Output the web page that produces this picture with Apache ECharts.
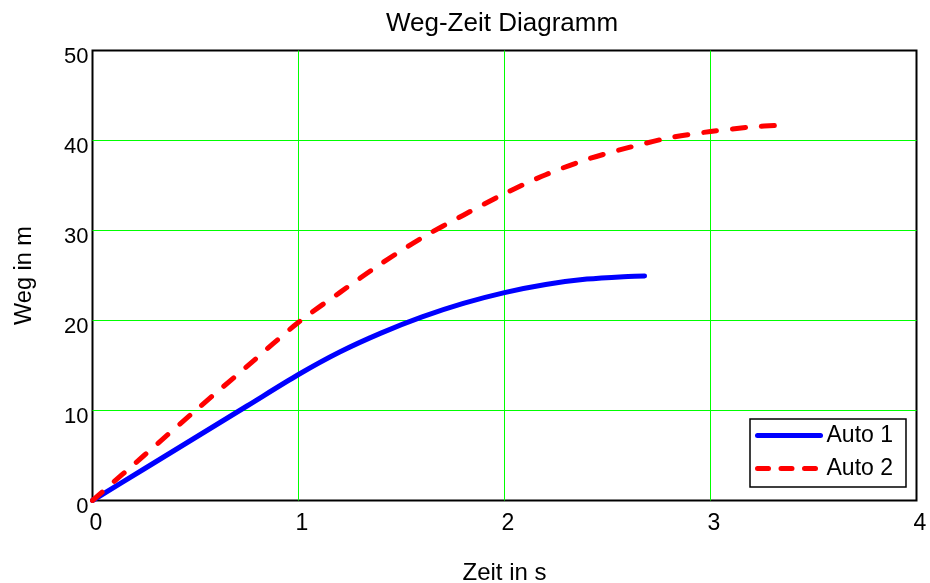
<!DOCTYPE html>
<html>
<head>
<meta charset="utf-8">
<script src="https://cdn.jsdelivr.net/npm/echarts@6/dist/echarts.min.js"></script>
<style>
html,body{margin:0;padding:0;background:#fff;}
#chart{width:930px;height:583px;}
</style>
</head>
<body>
<div id="chart"></div>
<script>
const chartTitle = 'Weg-Zeit Diagramm';
const xName = 'Zeit in s';
const yName = 'Weg in m';
const seriesNames = ['Auto 1', 'Auto 2'];

const timeAuto1 = [0, 0.25, 0.5, 0.75, 1.0, 1.2, 1.4, 1.6, 1.8, 2.0, 2.2, 2.4, 2.6, 2.68];
const wegAuto1  = [0, 3.5, 7.0, 10.5, 14.0, 16.5, 18.6, 20.4, 21.9, 23.1, 24.0, 24.6, 24.9, 24.95];

const timeAuto2 = [0, 0.25, 0.5, 0.75, 1.0, 1.2, 1.4, 1.6, 1.8, 2.0, 2.2, 2.4, 2.6, 2.8, 3.0, 3.2, 3.34];
const wegAuto2  = [0, 5.0, 10.0, 14.9, 19.8, 23.1, 26.3, 29.2, 31.7, 34.1, 36.2, 37.9, 39.2, 40.3, 41.0, 41.5, 41.7];

const xTicks = [0, 1, 2, 3, 4];
const yTicks = [0, 10, 20, 30, 40, 50];

const FONT = 'Liberation Sans, Arial, sans-serif';
const GRID_GREEN = '#00ff00';

function pairs(xs, ys) { return xs.map((x, i) => [x, ys[i]]); }

const chart = echarts.init(document.getElementById('chart'), null, {renderer: 'canvas'});
chart.setOption({
  animation: false,
  backgroundColor: '#ffffff',
  title: {
    text: chartTitle,
    left: 497,
    textAlign: 'center',
    top: 6,
    textStyle: {fontFamily: FONT, fontSize: 26, fontWeight: 'normal', color: '#000'}
  },
  grid: {
    left: 92.5, right: 13.5, top: 50.5, bottom: 82.5,
    outerBoundsMode: 'none',
    containLabel: false,
    show: true, borderColor: '#000', borderWidth: 2, backgroundColor: 'transparent'
  },
  legend: {
    left: 750, top: 419,
    orient: 'vertical',
    backgroundColor: '#fff',
    borderColor: '#000', borderWidth: 1.5, borderRadius: 0,
    padding: [5, 13, 7, 5],
    itemWidth: 63, itemHeight: 22, itemGap: 10,
    textStyle: {fontFamily: FONT, fontSize: 23, color: '#000', padding: [0, 0, 0, 1]},
    data: [
      {name: seriesNames[0], itemStyle: {opacity: 0},
       lineStyle: {color: '#0000ff', width: 5, type: 'solid', cap: 'round'}},
      {name: seriesNames[1], itemStyle: {opacity: 0},
       lineStyle: {color: '#ff0000', width: 5, type: [11, 12.5], cap: 'round'}}
    ]
  },
  xAxis: {
    type: 'value', min: xTicks[0], max: xTicks[xTicks.length - 1], interval: 1,
    name: xName, nameLocation: 'middle', nameGap: 61,
    nameTextStyle: {fontFamily: FONT, fontSize: 24, color: '#000'},
    axisLine: {show: false}, axisTick: {show: false},
    axisLabel: {fontFamily: FONT, fontSize: 23, color: '#000', margin: 12, padding: [0, 0, 0, 7]},
    splitLine: {show: true, showMinLine: false, showMaxLine: false, lineStyle: {color: GRID_GREEN, width: 1}}
  },
  yAxis: {
    type: 'value', min: yTicks[0], max: yTicks[yTicks.length - 1], interval: 10,
    name: yName, nameLocation: 'middle', nameGap: 56,
    nameTextStyle: {fontFamily: FONT, fontSize: 23.5, color: '#000'},
    axisLine: {show: false}, axisTick: {show: false},
    axisLabel: {fontFamily: FONT, fontSize: 22, color: '#000', margin: 4, verticalAlign: 'top', lineHeight: 12},
    splitLine: {show: true, showMinLine: false, showMaxLine: false, lineStyle: {color: GRID_GREEN, width: 1}}
  },
  series: [
    {
      name: seriesNames[0], type: 'line', data: pairs(timeAuto1, wegAuto1),
      smooth: 0.3, symbol: 'none', color: '#0000ff',
      lineStyle: {color: '#0000ff', width: 5, cap: 'round', join: 'round'}
    },
    {
      name: seriesNames[1], type: 'line', data: pairs(timeAuto2, wegAuto2),
      smooth: 0.3, symbol: 'none', color: '#ff0000',
      lineStyle: {color: '#ff0000', width: 5, type: [13, 16], cap: 'round', join: 'round'}
    }
  ]
});
</script>
</body>
</html>
